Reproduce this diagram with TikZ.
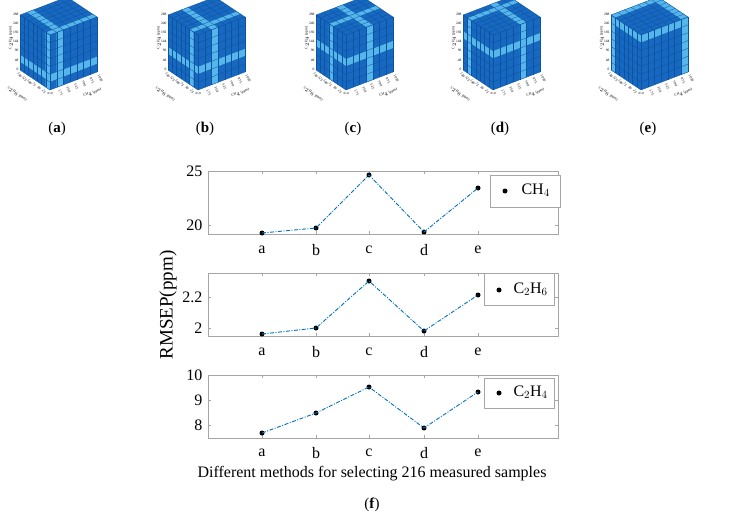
\documentclass[tikz,border=0pt]{standalone}
\usepackage{fontspec}
\setmainfont{Liberation Serif}
\usetikzlibrary{calc}
\definecolor{cubeblue}{HTML}{1668C0}
\definecolor{gridc}{HTML}{0E53A0}
\definecolor{stripe}{HTML}{55B6EC}
\definecolor{mline}{HTML}{0072BD}
\tikzset{
  face/.style={fill=cubeblue},
  band/.style={fill=stripe},
  gline/.style={draw=gridc,line width=0.3pt},
  tiny/.style={font=\fontsize{3.6}{4}\selectfont,inner sep=0pt},
  axbox/.style={draw=gray!70,line width=0.6pt},
  tick/.style={font=\fontsize{16}{18}\selectfont},
  dat/.style={mline,line width=0.9pt,dash pattern=on 4pt off 1.5pt on 1pt off 1.5pt},
  dot/.style={circle,fill=black,inner sep=0pt,minimum size=5pt},
  legbox/.style={draw=gray!70,fill=white,line width=0.6pt},
  sublab/.style={font=\fontsize{15}{17}\selectfont}
}
\newcommand{\mycube}[5]{%
\begin{scope}[shift={(#1,90)},x={(-4.2857pt,2.857pt)},y={(0pt,7.857pt)},z={(6.714pt,2.571pt)}]
 \fill[face] (0,0,0)--(7,0,0)--(7,7,0)--(0,7,0)--cycle;
 \fill[face] (0,0,0)--(0,0,7)--(0,7,7)--(0,7,0)--cycle;
 \fill[face] (0,7,0)--(7,7,0)--(7,7,7)--(0,7,7)--cycle;
 \fill[band] (#3,0,0)--(#3+1,0,0)--(#3+1,7,0)--(#3,7,0)--cycle;
 \fill[band] (0,#4,0)--(7,#4,0)--(7,#4+1,0)--(0,#4+1,0)--cycle;
 \fill[band] (0,0,#2)--(0,0,#2+1)--(0,7,#2+1)--(0,7,#2)--cycle;
 \fill[band] (0,#4,0)--(0,#4,7)--(0,#4+1,7)--(0,#4+1,0)--cycle;
 \fill[band] (#3,7,0)--(#3+1,7,0)--(#3+1,7,7)--(#3,7,7)--cycle;
 \fill[band] (0,7,#2)--(7,7,#2)--(7,7,#2+1)--(0,7,#2+1)--cycle;
 \foreach \t in {0,...,7}{
   \draw[gline] (\t,0,0)--(\t,7,0);
   \draw[gline] (0,\t,0)--(7,\t,0);
   \draw[gline] (0,0,\t)--(0,7,\t);
   \draw[gline] (0,\t,0)--(0,\t,7);
   \draw[gline] (\t,7,0)--(\t,7,7);
   \draw[gline] (0,7,\t)--(7,7,\t);
 }
 \foreach \v [count=\c from 0] in {0,48,96,144,192,240,288}
   \node[tiny,anchor=east] at ($(7.3,\c*7/6,0)$) {\v};
 \node[tiny,rotate=90,anchor=south] (ax#5) at ($(8.6,3.5,0)$) {C$_2$H$_4$ (ppm)};
 \foreach \v [count=\c from 0] in {0,25,50,75,100,125,150}
   \node[tiny,rotate=-55,anchor=west] at ($(\c*7/6,-0.3,-0.3)$) {\v};
 \node[tiny,rotate=-35] (bx#5) at ($(5.2,-1.9,-1.6)$) {C$_2$H$_6$ (ppm)};
 \foreach \v [count=\c from 0] in {0,175,350,525,700,875,1050}
   \node[tiny,rotate=-60,anchor=west] at ($(-0.3,-0.3,\c*7/6)$) {\v};
 \node[tiny,rotate=20] (cx#5) at ($(-1.0,-1.9,5.7)$) {CH$_4$ (ppm)};
\end{scope}
\node[sublab] (lab#5) at (#1+7,129) {(\textbf{#5})};
}
\begin{document}
\begin{tikzpicture}[x=1pt,y=-1pt]
\useasboundingbox (0,0) rectangle (743,524);
\fill[white] (0,0) rectangle (743,524);
\mycube{50}{1}{0}{1}{a}
\mycube{198}{2}{1}{2}{b}
\mycube{346}{3}{3}{3}{c}
\mycube{493}{4}{5}{4}{d}
\mycube{641}{6}{6}{6}{e}

% panel 1 : CH4
\draw[axbox] (208,171) rectangle (558,234);
\foreach \x in {262,316,369,424,478}{\draw[gray!70] (\x,171)--(\x,174);\draw[gray!70] (\x,234)--(\x,231);}
\foreach \y/\l in {171/25,225/20}{\draw[gray!70] (208,\y)--(211,\y);\draw[gray!70] (558,\y)--(555,\y);\node[tick,anchor=east] at (206,\y) {\l};}
\foreach \x/\l in {262/a,316/b,369/c,424/d,478/e}\node[tick] at (\x,250) {\l};
\node[dot] (p1a) at (262,233) {}; \node[dot] (p1b) at (316,228) {}; \node[dot] (p1c) at (369,175) {};
\node[dot] (p1d) at (424,232) {}; \node[dot] (p1e) at (478,188) {};
\draw[dat] (p1a.center)--(p1b.center)--(p1c.center)--(p1d.center)--(p1e.center);
\node[legbox,minimum width=70,minimum height=32,anchor=north west] (lg1) at (490,175) {};
\node[dot] (lgd1) at (505,191) {};
\node[tick,anchor=west] at (518,190) {CH$_4$};

% panel 2 : C2H6
\draw[axbox] (208,273) rectangle (558,336);
\foreach \x in {262,316,369,424,478}{\draw[gray!70] (\x,273)--(\x,276);\draw[gray!70] (\x,336)--(\x,333);}
\foreach \y/\l in {297/2.2,328/2}{\draw[gray!70] (208,\y)--(211,\y);\draw[gray!70] (558,\y)--(555,\y);\node[tick,anchor=east] at (206,\y) {\l};}
\foreach \x/\l in {262/a,316/b,369/c,424/d,478/e}\node[tick] at (\x,352) {\l};
\node[dot] (p2a) at (262,334) {}; \node[dot] (p2b) at (316,328) {}; \node[dot] (p2c) at (369,281) {};
\node[dot] (p2d) at (424,331) {}; \node[dot] (p2e) at (478,295) {};
\draw[dat] (p2a.center)--(p2b.center)--(p2c.center)--(p2d.center)--(p2e.center);
\node[legbox,minimum width=70,minimum height=32,anchor=north west] (lg2) at (484,273) {};
\node[dot] (lgd2) at (499,290) {};
\node[tick,anchor=west] at (510,289) {C$_2$H$_6$};

% panel 3 : C2H4
\draw[axbox] (208,375) rectangle (558,438);
\foreach \x in {262,316,369,424,478}{\draw[gray!70] (\x,375)--(\x,378);\draw[gray!70] (\x,438)--(\x,435);}
\foreach \y/\l in {375/10,400/9,425/8}{\draw[gray!70] (208,\y)--(211,\y);\draw[gray!70] (558,\y)--(555,\y);\node[tick,anchor=east] at (206,\y) {\l};}
\foreach \x/\l in {262/a,316/b,369/c,424/d,478/e}\node[tick] at (\x,453) {\l};
\node[dot] (p3a) at (262,433) {}; \node[dot] (p3b) at (316,413) {}; \node[dot] (p3c) at (369,387) {};
\node[dot] (p3d) at (424,428) {}; \node[dot] (p3e) at (478,392) {};
\draw[dat] (p3a.center)--(p3b.center)--(p3c.center)--(p3d.center)--(p3e.center);
\node[legbox,minimum width=70,minimum height=30,anchor=north west] (lg3) at (484,378) {};
\node[dot] (lgd3) at (499,393) {};
\node[tick,anchor=west] at (510,392) {C$_2$H$_4$};

\node[rotate=90,font=\fontsize{19}{21}\selectfont] (ylab) at (168,305) {RMSEP(ppm)};
\node[font=\fontsize{16}{18}\selectfont] (xlab) at (372,474) {Different methods for selecting 216 measured samples};
\node[sublab] (labf) at (372,505) {(\textbf{f})};
\end{tikzpicture}
\end{document}
